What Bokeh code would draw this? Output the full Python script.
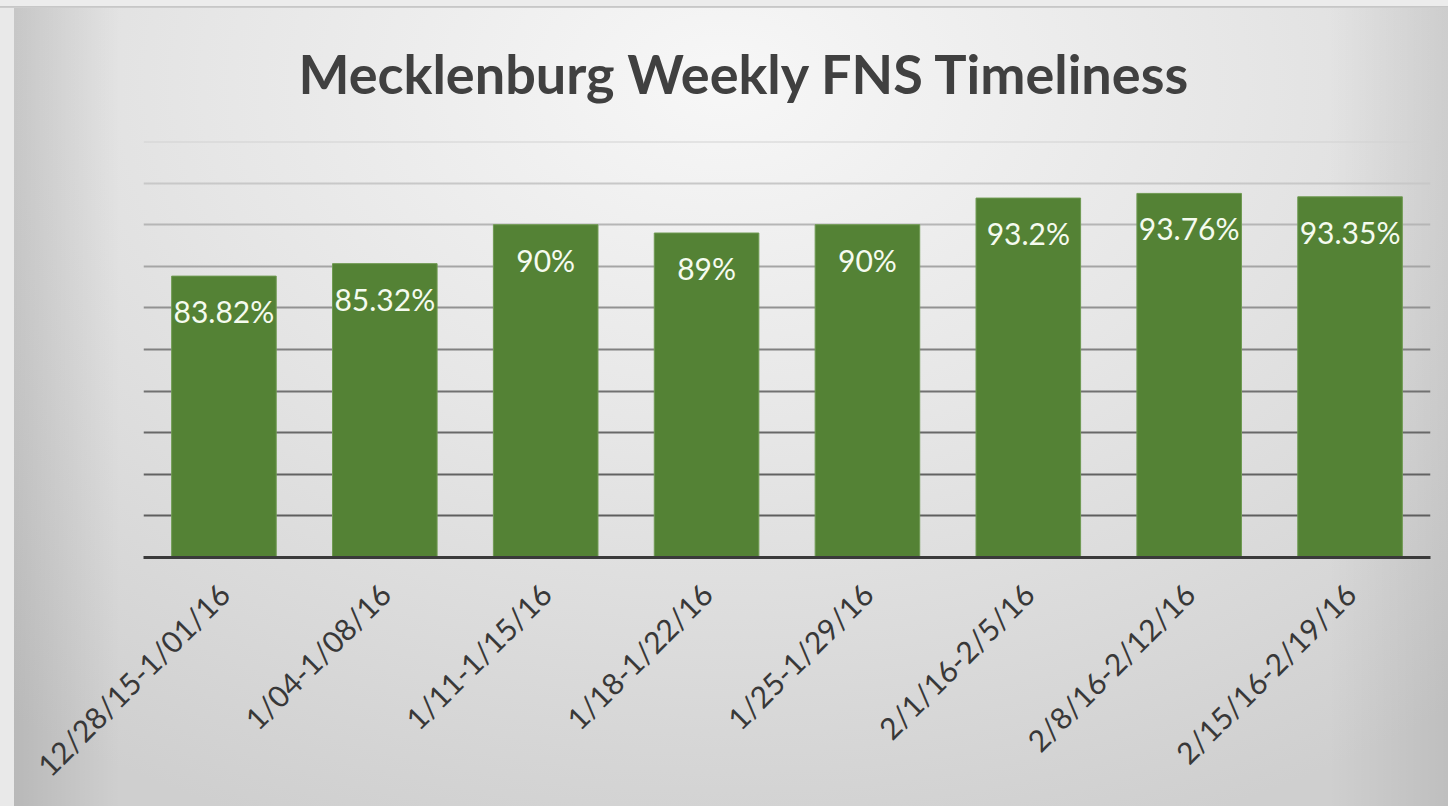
import math
from bokeh.plotting import figure
from bokeh.models import FactorRange, Range1d, Title, ColumnDataSource
from bokeh.core.properties import value
from bokeh.embed import file_html
from bokeh.resources import INLINE

# ---- data ----
weeks = ["12/28/15-1/01/16", "1/04-1/08/16", "1/11-1/15/16", "1/18-1/22/16",
         "1/25-1/29/16", "2/1/16-2/5/16", "2/8/16-2/12/16", "2/15/16-2/19/16"]
timeliness = [83.82, 85.32, 90, 89, 90, 93.2, 93.76, 93.35]
label_text = [f"{v:g}%" for v in timeliness]
grid_values = [55, 60, 65, 70, 75, 80, 85, 90, 95, 100]
grid_colors = ["#5e5e5e", "#626262", "#686868", "#717171", "#808080",
               "#929292", "#a5a5a5", "#b6b6b6", "#c8c8c8", "#d2d2d2"]

TITLE = "Mecklenburg Weekly FNS Timeliness"

p = figure(width=1448, height=806, output_backend="svg", toolbar_location=None,
           x_range=FactorRange(factors=weeks, range_padding=0),
           y_range=Range1d(50, 100),
           min_border_left=143, min_border_right=18, min_border_top=141,
           min_border_bottom=249)

p.background_fill_alpha = 0
p.border_fill_alpha = 0
p.outline_line_color = None
p.styles = {
    "background-image": (
        "linear-gradient(to bottom, #ececec 0px, #ececec 6px, #c4c4c4 6px, #d0d0d0 8px, rgba(0,0,0,0) 8px), "
        "linear-gradient(to right, #e9e9e9 0px, #e9e9e9 14px, rgba(0,0,0,0) 14px), "
        "linear-gradient(to right, rgba(0,0,0,0) 14px, rgba(0,0,0,0.11) 14px, rgba(0,0,0,0) 120px, "
        "rgba(0,0,0,0) calc(100% - 120px), rgba(0,0,0,0.08) 100%), "
        "radial-gradient(ellipse 80% 100% at 50% 10%, #f7f7f7 0%, #e6e6e6 45%, #cfcfcf 100%)"
    )
}

p.title = Title(text=TITLE, align="left", text_font="Lato", text_font_style="bold",
                text_font_size="54px", text_color="#404040", standoff=72, offset=155,
                text_line_height=0.85)

p.xgrid.visible = False
p.ygrid.visible = False

src = ColumnDataSource(dict(week=weeks, val=timeliness, lab=label_text))

p.hspan(y=grid_values, line_color=grid_colors, line_width=1.8)

p.vbar(x="week", top="val", bottom=50, width=0.65, source=src,
       fill_color="#548235", line_color="#6f9a52", line_width=1)

p.text(x="week", y="val", text="lab", source=src, text_align="center",
       text_baseline="alphabetic", y_offset=35, text_font=value("Lato"),
       text_font_size="30px", text_color="#f5fbef")

p.yaxis.visible = False
ax = p.xaxis[0]
ax.axis_line_color = "#3a3a3a"
ax.axis_line_width = 3
ax.major_tick_line_color = None
ax.minor_tick_line_color = None
ax.major_tick_out = 0
ax.major_tick_in = 0
ax.major_label_orientation = math.pi / 4
ax.major_label_standoff = 31
ax.major_label_text_font = "Lato"
ax.major_label_text_font_size = "30px"
ax.major_label_text_color = "#383838"

open("out.html", "w").write(file_html(p, INLINE))
